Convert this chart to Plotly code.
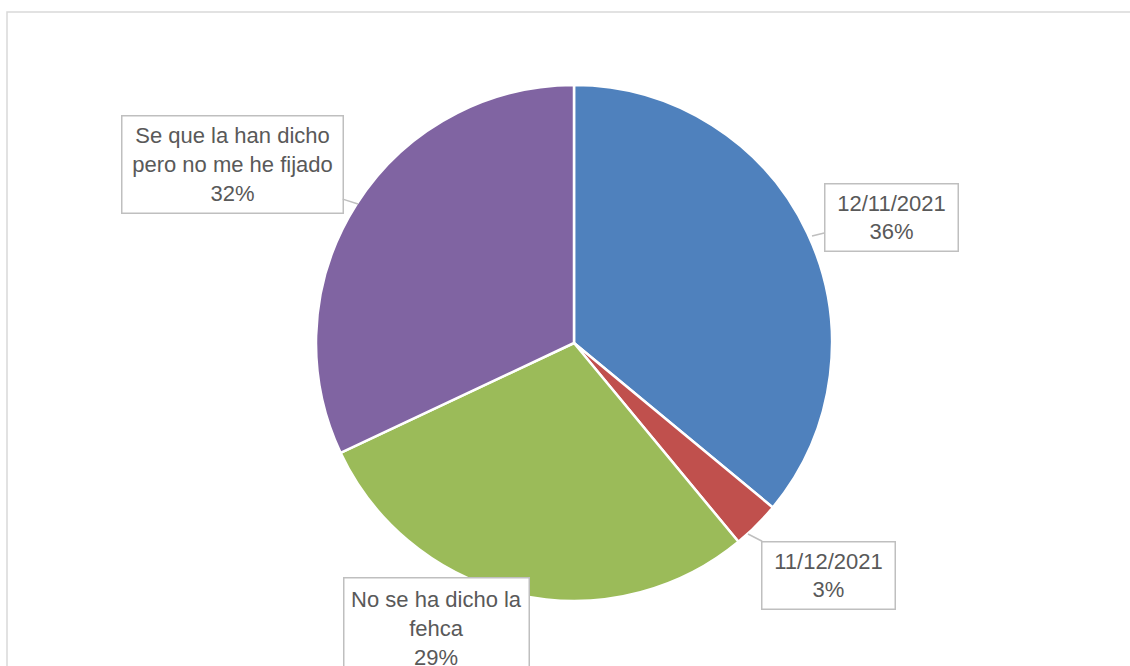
import plotly.graph_objects as go

# Survey answers: when the date was announced
categories = ["12/11/2021", "11/12/2021", "No se ha dicho la fehca", "Se que la han dicho pero no me he fijado"]
label_text = ["12/11/2021", "11/12/2021", "No se ha dicho la<br>fehca", "Se que la han dicho<br>pero no me he fijado"]
percentages = [36, 3, 29, 32]
colors = ["#4F81BD", "#C0504D", "#9BBB59", "#8064A2"]

W, H = 1130, 666


def px(x):
    return x / W


def py(y):
    return 1 - y / H


fig = go.Figure(
    go.Pie(
        labels=categories,
        values=percentages,
        sort=False,
        direction="clockwise",
        rotation=0,
        marker=dict(colors=colors, line=dict(color="white", width=2.5)),
        textinfo="none",
        hoverinfo="label+percent",
        showlegend=False,
        domain=dict(x=[px(316), px(832)], y=[py(601), py(85)]),
    )
)

font = dict(family="Liberation Sans, Arial, sans-serif", size=22, color="#595959")

# callout boxes: (tip x, tip y, box centre x, box centre y, box w, box h, arrow)
callouts = [
    (812, 236, 891, 217, 132, 66, True),
    (748, 534, 828, 575, 132, 66, True),
    (436, 628, 436, 628, 184, 100, False),
    (358, 204, 232, 164, 220, 96, True),
]

for i, (tx, ty, cx, cy, bw, bh, arrow) in enumerate(callouts):
    text = f"{label_text[i]}<br>{percentages[i]}%"
    common = dict(
        text=text,
        xref="paper",
        yref="paper",
        font=font,
        align="center",
        bgcolor="white",
        bordercolor="#BFBFBF",
        borderwidth=1.5,
        borderpad=0,
        width=bw,
        height=bh,
        valign="middle",
    )
    if arrow:
        fig.add_annotation(
            x=px(tx), y=py(ty),
            ax=cx - tx, ay=cy - ty,
            showarrow=True, arrowhead=0, arrowwidth=1.5, arrowcolor="#BFBFBF",
            standoff=0,
            **common,
        )
    else:
        fig.add_annotation(
            x=px(cx), y=py(cy), xanchor="center", yanchor="middle",
            showarrow=False, **common,
        )

# chart-area frame (top and left edges visible)
fig.add_shape(
    type="rect", xref="paper", yref="paper",
    x0=px(7), y0=py(12), x1=px(1140), y1=py(680),
    line=dict(color="#D9D9D9", width=1.5), fillcolor="rgba(0,0,0,0)",
    layer="below",
)

fig.update_layout(
    width=W,
    height=H,
    margin=dict(l=0, r=0, t=0, b=0),
    paper_bgcolor="white",
    plot_bgcolor="white",
)

fig.write_html("out.html")
